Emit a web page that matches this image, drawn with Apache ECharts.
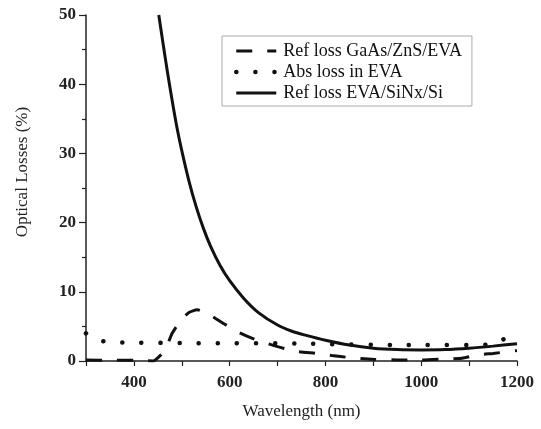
<!DOCTYPE html>
<html>
<head>
<meta charset="utf-8">
<script src="https://cdn.jsdelivr.net/npm/echarts@6/dist/echarts.min.js"></script>
<style>html,body{margin:0;padding:0;background:#fff}#c{width:541px;height:429px}</style>
</head>
<body>
<div id="c"></div>
<script>
// Ref loss EVA/SiNx/Si (solid)
var xSolid = [452, 460, 470, 480, 490, 500, 515, 530, 545, 560, 580, 600, 630, 660, 700, 730, 760, 800, 850, 900, 950, 1000, 1050, 1100, 1150, 1200];
var ySolid = [50, 46.3, 41.8, 37.6, 33.7, 30.4, 26.0, 22.3, 19.2, 16.6, 13.8, 11.6, 9.0, 7.0, 5.2, 4.3, 3.7, 3.0, 2.3, 1.85, 1.65, 1.6, 1.65, 1.85, 2.15, 2.5];
// Ref loss GaAs/ZnS/EVA (dashed)
var xDash = [300, 350, 400, 440, 455, 466, 480, 497, 515, 532, 560, 590, 620, 650, 680, 715, 746, 780, 813, 850, 900, 950, 1000, 1050, 1085, 1120, 1150, 1200];
var yDash = [0.15, 0.1, 0.1, 0.0, 0.8, 1.7, 4.0, 5.8, 7.0, 7.4, 6.6, 5.3, 4.1, 3.2, 2.5, 1.8, 1.35, 1.1, 0.8, 0.5, 0.25, 0.15, 0.15, 0.3, 0.4, 0.9, 1.1, 1.5];
// Abs loss in EVA (dotted)
var xDot = [300, 320, 350, 400, 500, 600, 700, 760, 800, 850, 900, 950, 1000, 1050, 1100, 1140, 1160, 1180, 1200];
var yDot = [4.0, 3.2, 2.7, 2.65, 2.6, 2.55, 2.55, 2.5, 2.45, 2.4, 2.35, 2.3, 2.3, 2.3, 2.3, 2.4, 2.8, 3.4, 4.2];

var seriesNames = ['Ref loss GaAs/ZnS/EVA', 'Abs loss in EVA', 'Ref loss EVA/SiNx/Si'];
var xTicks = [400, 600, 800, 1000, 1200];
var yTicks = [0, 10, 20, 30, 40, 50];

function pairs(xs, ys) { return xs.map(function (x, i) { return [x, ys[i]]; }); }

var FONT = "'Liberation Serif', 'Times New Roman', serif";
var styles = [
  { color: '#111', width: 3, type: [16, 15] },
  { color: '#111', width: 4.5, type: [0.1, 19], cap: 'round' },
  { color: '#111', width: 3 }
];
var chart = echarts.init(document.getElementById('c'), null, { renderer: 'canvas' });
chart.setOption({
  animation: false,
  backgroundColor: '#fff',
  grid: { left: 86, right: 24, top: 15, bottom: 68, containLabel: false },
  legend: {
    orient: 'vertical',
    left: 222, top: 36,
    data: seriesNames.map(function (n, i) { return { name: n, lineStyle: styles[i] }; }),
    itemWidth: 40, itemHeight: 14, itemGap: 3,
    padding: [6, 10, 4, 12],
    borderColor: '#aaa', borderWidth: 1,
    itemStyle: { opacity: 0 },
    textStyle: { fontFamily: FONT, fontSize: 18, color: '#111', padding: [0, 0, 0, 2] }
  },
  xAxis: {
    type: 'value', min: 300, max: 1200, interval: 100,
    name: 'Wavelength (nm)', nameLocation: 'middle', nameGap: 42,
    nameTextStyle: { fontFamily: FONT, fontSize: 17, color: '#222' },
    axisLine: { show: true, lineStyle: { color: '#222', width: 1.5 } },
    axisTick: { show: true, length: 5, lineStyle: { color: '#222', width: 1.2 } },
    axisLabel: {
      fontFamily: FONT, fontSize: 17, fontWeight: 'bold', color: '#222', margin: 13,
      formatter: function (v) { return xTicks.indexOf(v) >= 0 ? String(v) : ''; }
    },
    splitLine: { show: false }
  },
  yAxis: {
    type: 'value', min: 0, max: 50, interval: 10,
    name: 'Optical Losses (%)', nameLocation: 'middle', nameGap: 55, nameRotate: 90,
    nameTextStyle: { fontFamily: FONT, fontSize: 17, color: '#222', padding: [0, 0, 0, 32] },
    axisLine: { show: true, lineStyle: { color: '#222', width: 1.5 } },
    axisTick: { show: true, length: 7, lineStyle: { color: '#222', width: 1.2 } },
    minorTick: { show: true, splitNumber: 2, length: 4, lineStyle: { color: '#222', width: 1.2 } },
    axisLabel: {
      fontFamily: FONT, fontSize: 17, fontWeight: 'bold', color: '#222', margin: 10,
      formatter: function (v) { return yTicks.indexOf(v) >= 0 ? String(v) : ''; }
    },
    splitLine: { show: false }
  },
  series: [
    {
      name: seriesNames[0], type: 'line', data: pairs(xDash, yDash), symbol: 'none', smooth: 0.2,
      lineStyle: styles[0], itemStyle: { color: '#111' }
    },
    {
      name: seriesNames[1], type: 'line', data: pairs(xDot, yDot), symbol: 'none', smooth: 0.3,
      lineStyle: styles[1], itemStyle: { color: '#111' }
    },
    {
      name: seriesNames[2], type: 'line', data: pairs(xSolid, ySolid), symbol: 'none', smooth: 0.3,
      lineStyle: styles[2], itemStyle: { color: '#111' }
    }
  ]
});
</script>
</body>
</html>
